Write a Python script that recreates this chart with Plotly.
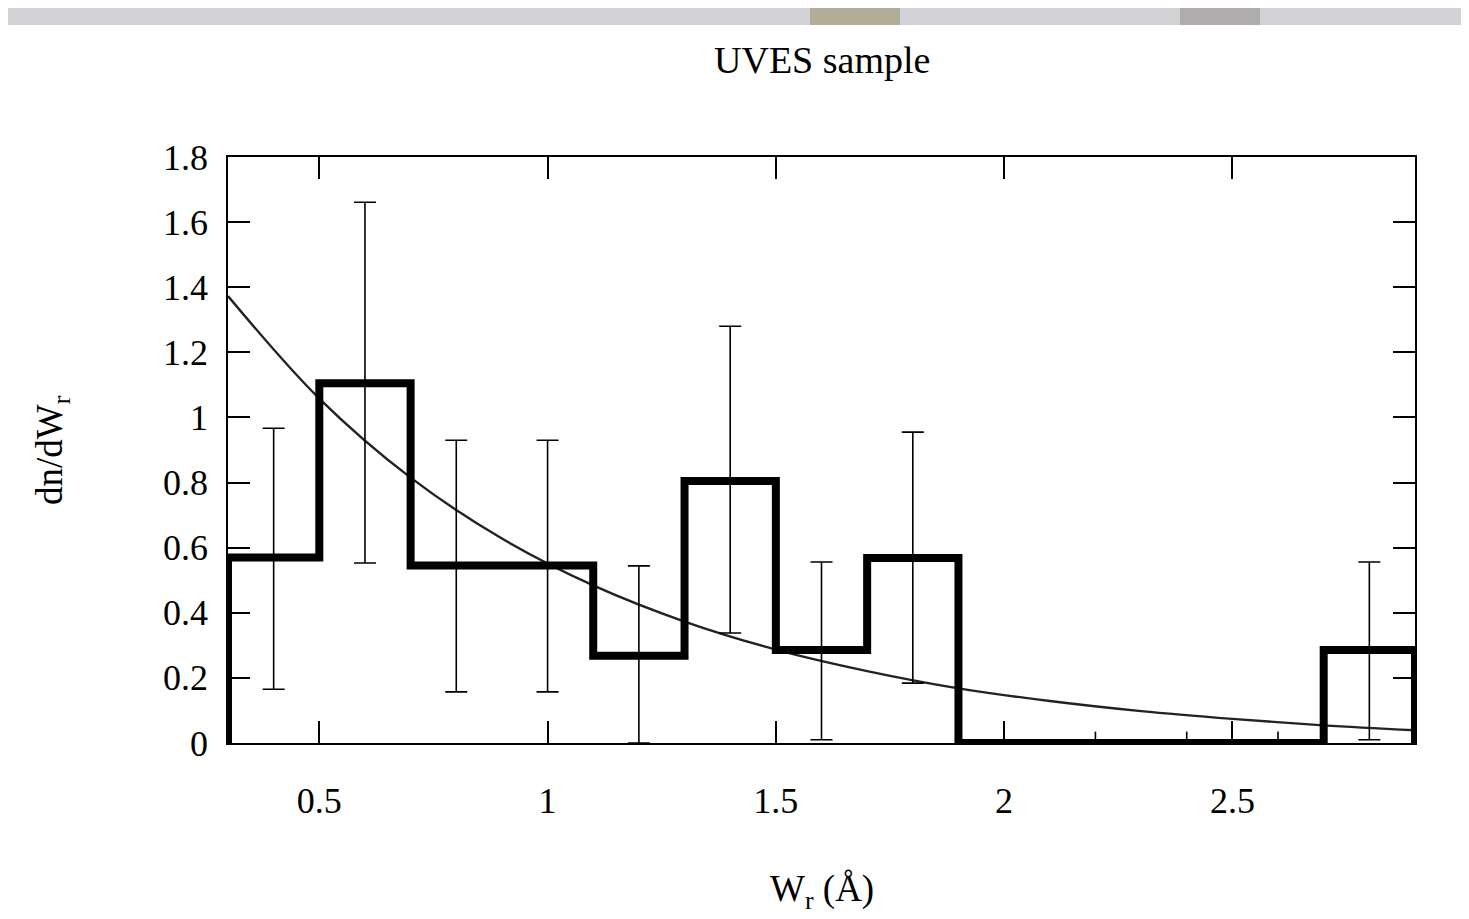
import plotly.graph_objects as go

# ---- data ----
bin_edges = [0.3, 0.5, 0.7, 0.9, 1.1, 1.3, 1.5, 1.7, 1.9, 2.1, 2.3, 2.5, 2.7, 2.9]
bin_values = [0.57, 1.105, 0.545, 0.545, 0.268, 0.805, 0.286, 0.568, 0.0, 0.0, 0.0, 0.0, 0.286]

err_x = [0.4, 0.6, 0.8, 1.0, 1.2, 1.4, 1.6, 1.8, 2.8]
err_mid = [0.57, 1.105, 0.545, 0.545, 0.268, 0.805, 0.286, 0.568, 0.286]
err_low = [0.165, 0.553, 0.157, 0.157, 0.0, 0.338, 0.01, 0.184, 0.01]
err_high = [0.967, 1.661, 0.93, 0.93, 0.544, 1.28, 0.556, 0.955, 0.556]

zero_x = [2.0, 2.2, 2.4, 2.6]
zero_y = [0.0, 0.0, 0.0, 0.0]
zero_err = [0.035, 0.035, 0.035, 0.035]

fit_x = [0.3, 0.5, 0.7, 0.9, 1.1, 1.3, 1.5, 1.7, 1.9, 2.1, 2.3, 2.5, 2.7, 2.9]
fit_y = [1.373, 1.058, 0.815, 0.628, 0.484, 0.373, 0.287, 0.221, 0.168, 0.129, 0.098, 0.074, 0.054, 0.039]

x_ticks = [0.5, 1.0, 1.5, 2.0, 2.5]
x_labels = ["0.5", "1", "1.5", "2", "2.5"]
y_ticks = [0, 0.2, 0.4, 0.6, 0.8, 1.0, 1.2, 1.4, 1.6, 1.8]
y_labels = ["0", "0.2", "0.4", "0.6", "0.8", "1", "1.2", "1.4", "1.6", "1.8"]

FONT = "Liberation Serif"

# figure geometry (page has an 8px body margin)
W, H = 1461, 911
ML, MR, MT, MB = 220, 54, 149, 176
PW, PH = W - ML - MR, H - MT - MB

# step outline of the histogram
hx = [bin_edges[0]] + bin_edges[:-1] + [bin_edges[-1], bin_edges[-1]]
hy = [0.0] + bin_values + [bin_values[-1], 0.0]

fig = go.Figure()

fig.add_trace(go.Scatter(
    x=fit_x, y=fit_y, mode="lines", line=dict(color="#222222", width=2.4, shape="spline", smoothing=1.0),
    hoverinfo="skip", showlegend=False))

fig.add_trace(go.Scatter(
    x=err_x, y=err_mid, mode="markers", marker=dict(size=1, color="rgba(0,0,0,0)"),
    error_y=dict(type="data", symmetric=False,
                 array=[h - m for h, m in zip(err_high, err_mid)],
                 arrayminus=[m - l for m, l in zip(err_mid, err_low)],
                 color="black", thickness=1.6, width=11),
    cliponaxis=False, showlegend=False))

fig.add_trace(go.Scatter(
    x=zero_x, y=zero_y, mode="markers", marker=dict(size=1, color="rgba(0,0,0,0)"),
    error_y=dict(type="data", array=zero_err, color="black", thickness=1.6, width=0),
    cliponaxis=False, showlegend=False))

fig.add_trace(go.Scatter(
    x=hx, y=hy, mode="lines", line=dict(color="black", width=8, shape="hv"),
    cliponaxis=False, showlegend=False))

axis_common = dict(
    showline=True, linecolor="black", linewidth=1.5, mirror="allticks",
    ticks="inside", ticklen=22, tickwidth=1.5, tickcolor="black",
    showgrid=False, zeroline=False,
    tickfont=dict(family=FONT, size=36, color="black"),
)

fig.update_xaxes(range=[0.3, 2.9], tickvals=x_ticks, ticktext=x_labels,
                 ticklabelstandoff=25, **axis_common)
fig.update_yaxes(range=[0, 1.8], tickvals=y_ticks, ticktext=y_labels,
                 ticklabelstandoff=11, **axis_common)

strip_y0 = 1 + (MT - 17) / PH
strip_y1 = 1 + MT / PH

fig.update_layout(
    width=W, height=H,
    margin=dict(l=ML, r=MR, t=MT, b=MB, autoexpand=False),
    paper_bgcolor="white", plot_bgcolor="white",
    font=dict(family=FONT, size=36, color="black"),
    showlegend=False,
    annotations=[
        dict(text="UVES sample", x=0.5, y=1 + 97 / PH, xref="paper", yref="paper",
             showarrow=False, font=dict(family=FONT, size=38, color="black"),
             xanchor="center", yanchor="middle"),
        dict(text="W<sub>r</sub> (Å)", x=0.5, y=-148 / PH, xref="paper", yref="paper",
             showarrow=False, font=dict(family=FONT, size=37, color="black"),
             xanchor="center", yanchor="middle"),
        dict(text="dn/dW<sub>r</sub>", x=-176 / PW, y=0.5, xref="paper", yref="paper",
             showarrow=False, textangle=-90, font=dict(family=FONT, size=37, color="black"),
             xanchor="center", yanchor="middle"),
    ],
    shapes=[
        dict(type="rect", xref="paper", yref="paper", x0=-ML / PW, x1=(W - ML) / PW,
             y0=strip_y0, y1=strip_y1, fillcolor="#d3d2d6", line=dict(width=0), layer="below"),
        dict(type="rect", xref="paper", yref="paper", x0=(802 - ML) / PW, x1=(892 - ML) / PW,
             y0=strip_y0, y1=strip_y1, fillcolor="#b3ad98", line=dict(width=0), layer="below"),
        dict(type="rect", xref="paper", yref="paper", x0=(1172 - ML) / PW, x1=(1252 - ML) / PW,
             y0=strip_y0, y1=strip_y1, fillcolor="#b0acac", line=dict(width=0), layer="below"),
    ],
)

fig.write_html("out.html")
